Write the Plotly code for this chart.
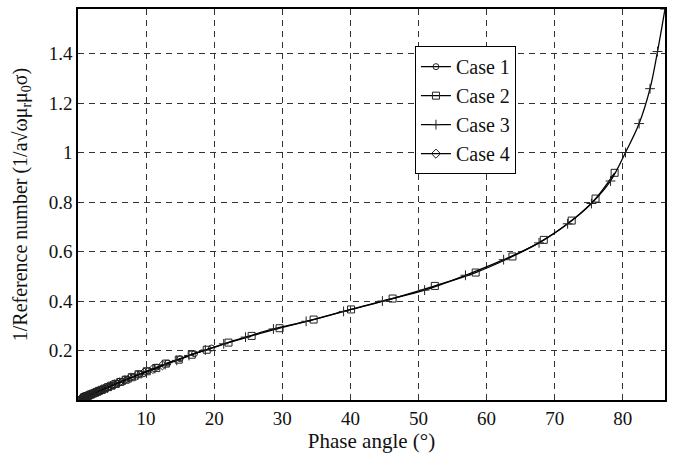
import plotly.graph_objects as go

# Case 1 (circles)
case1_x = [19.6, 17.1, 15.0, 13.2, 11.6, 10.3, 9.1, 8.1, 7.2, 6.4, 5.7, 5.0, 4.5, 4.0, 3.55,
           3.15, 2.8, 2.5, 2.2, 2.0, 1.78, 1.6, 1.42, 1.27, 1.12, 1.0, 0.89, 0.8, 0.71, 0.63]
case1_y = [0.21, 0.187, 0.167, 0.149, 0.133, 0.118, 0.105, 0.094, 0.084, 0.075, 0.067, 0.059,
           0.053, 0.047, 0.042, 0.037, 0.033, 0.030, 0.026, 0.024, 0.021, 0.019, 0.017, 0.015,
           0.013, 0.012, 0.0105, 0.0094, 0.0084, 0.0075]

# Case 2 (squares)
case2_x = [78.8, 76.0, 72.5, 68.4, 63.8, 58.4, 52.4, 46.2, 40.1, 34.6, 29.6, 25.5, 22.1, 18.9,
           16.7, 14.8, 12.9, 11.5, 10.1, 8.9, 7.9, 7.0, 6.2, 5.5, 4.9, 4.4, 3.9, 3.5, 3.1, 2.8,
           2.5, 2.2, 1.95, 1.75, 1.55, 1.38, 1.23, 1.1, 0.98, 0.87]
case2_y = [0.918, 0.814, 0.725, 0.647, 0.580, 0.515, 0.461, 0.410, 0.366, 0.325, 0.290, 0.259,
           0.232, 0.203, 0.183, 0.163, 0.147, 0.129, 0.116, 0.104, 0.092, 0.082, 0.073, 0.065,
           0.058, 0.052, 0.046, 0.041, 0.037, 0.033, 0.029, 0.026, 0.023, 0.021, 0.018, 0.016,
           0.015, 0.013, 0.012, 0.010]

# Case 3 (plus)
case3_x = [86.2, 85.1, 84.0, 82.4, 80.4, 78.2, 75.4, 71.9, 67.7, 62.5, 56.9, 50.9, 44.7, 39.0,
           33.5, 28.7, 24.6, 21.4, 18.7, 16.3, 14.5, 12.8, 11.3, 10.0, 8.8, 7.8, 6.9, 6.1, 5.4,
           4.8, 4.3, 3.8, 3.4, 3.0, 2.7, 2.4]
case3_y = [1.58, 1.408, 1.258, 1.117, 1.0, 0.885, 0.794, 0.712, 0.635, 0.567, 0.504, 0.444,
           0.400, 0.358, 0.318, 0.287, 0.254, 0.227, 0.202, 0.180, 0.160, 0.143, 0.127, 0.113,
           0.101, 0.090, 0.080, 0.071, 0.064, 0.057, 0.051, 0.045, 0.040, 0.036, 0.032, 0.028]

# Case 4 (diamonds)
case4_x = [12.4, 11.0, 9.7, 8.6, 7.6, 6.8, 6.0, 5.35, 4.8, 4.3, 3.8, 3.35, 3.0, 2.67, 2.4, 2.15,
           1.9, 1.72, 1.52, 1.35, 1.2, 1.08, 0.95, 0.85, 0.76, 0.68, 0.6, 0.53, 0.48, 0.43]
case4_y = [0.14, 0.125, 0.111, 0.099, 0.088, 0.079, 0.070, 0.062, 0.056, 0.050, 0.044, 0.039,
           0.035, 0.031, 0.028, 0.025, 0.022, 0.020, 0.0176, 0.0157, 0.014, 0.0125, 0.011,
           0.0099, 0.0088, 0.0079, 0.007, 0.0062, 0.0056, 0.005]

x_ticks = [10, 20, 30, 40, 50, 60, 70, 80]
y_ticks = [0.2, 0.4, 0.6, 0.8, 1.0, 1.2, 1.4]
y_tick_text = ["0.2", "0.4", "0.6", "0.8", "1", "1.2", "1.4"]

series = [
    ("Case 1", case1_x, case1_y, "circle-open", 6),
    ("Case 2", case2_x, case2_y, "square-open", 7),
    ("Case 3", case3_x, case3_y, "cross-thin-open", 7),
    ("Case 4", case4_x, case4_y, "diamond-open", 7),
]

fig = go.Figure()
for name, xs, ys, sym, sz in series:
    fig.add_trace(go.Scatter(
        x=xs, y=ys, name=name, mode="lines+markers",
        line=dict(color="black", width=1.3, shape="spline"),
        marker=dict(symbol=sym, size=sz, color="#222222", line=dict(width=1, color="#222222")),
    ))

FAM = "Liberation Serif, Times New Roman, serif"
tick_font = dict(family=FAM, size=19, color="#111111")
xtitle_font = dict(family=FAM, size=21, color="#111111")
ytitle_font = dict(family=FAM, size=20, color="#111111")
axis_common = dict(
    showline=True, linecolor="black", linewidth=1.5, mirror=True,
    showgrid=True, gridcolor="#333333", gridwidth=1, griddash="6px,5px",
    zeroline=False, ticks="", tickfont=tick_font,
)
fig.update_layout(
    width=675, height=461,
    margin=dict(l=78, r=10, t=7, b=61),
    paper_bgcolor="white", plot_bgcolor="white",
    font=ytitle_font,
    showlegend=True,
    legend=dict(
        x=0.574, y=0.905, xanchor="left", yanchor="top",
        bgcolor="white", bordercolor="black", borderwidth=1,
        font=dict(family=FAM, size=20, color="#111111"),
        itemwidth=30, tracegroupgap=0,
    ),
    xaxis=dict(range=[0, 86.2], tickvals=x_ticks,
               title=dict(text="Phase angle (°)", font=xtitle_font, standoff=6), **axis_common),
    yaxis=dict(range=[0, 1.58], tickvals=y_ticks, ticktext=y_tick_text,
               title=dict(text="1/Reference number (1/a√ωμ<sub>r</sub>μ<sub>0</sub>σ)", font=ytitle_font, standoff=16),
               **axis_common),
)

fig.write_html("out.html")
